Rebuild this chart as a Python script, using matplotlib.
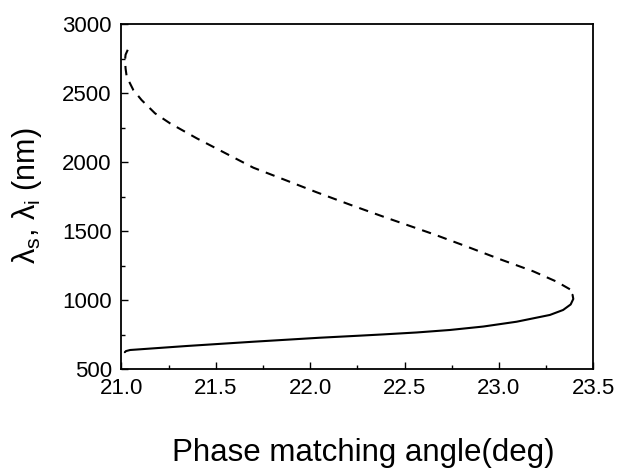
import matplotlib
matplotlib.use("Agg")
import matplotlib.pyplot as plt
from matplotlib.ticker import MultipleLocator

plt.rcParams['font.family'] = ['Liberation Sans', 'DejaVu Sans']
plt.rcParams['mathtext.default'] = 'regular'

# Signal wavelength (solid)
signal_angle = [21.018, 21.024, 21.046, 21.346, 21.699, 22.052, 22.264, 22.387,
                22.564, 22.74, 22.917, 23.094, 23.27, 23.34, 23.38, 23.394, 23.39]
signal_wl = [624, 632, 640, 669, 700, 729, 744, 753,
             767, 785, 810, 845, 894, 930, 970, 1010, 1040]

# Idler wavelength (dashed)
idler_angle = [23.376, 23.306, 23.182, 23.005, 22.829, 22.652, 22.40,
               22.211, 22.034, 21.858, 21.699, 21.399, 21.257, 21.178, 21.107,
               21.063, 21.028, 21.022, 21.019, 21.022, 21.037]
idler_wl = [1080, 1135, 1210, 1298, 1390, 1480, 1600,
            1693, 1783, 1877, 1961, 2174, 2283, 2355, 2451,
            2524, 2620, 2680, 2741, 2780, 2826]

fig = plt.figure(figsize=(6.17, 4.73), dpi=100)
ax = fig.add_axes([0.1968, 0.2192, 0.9616 - 0.1968, 0.9486 - 0.2192])

ax.plot(signal_angle, signal_wl, color='black', lw=1.5, solid_capstyle='round',
        solid_joinstyle='round')
ax.plot(idler_angle, idler_wl, color='black', lw=1.5, linestyle=(0, (4.5, 3.5)))

ax.set_xlim(21.0, 23.5)
ax.set_ylim(500, 3000)
ax.xaxis.set_major_locator(MultipleLocator(0.5))
ax.xaxis.set_minor_locator(MultipleLocator(0.25))
ax.yaxis.set_major_locator(MultipleLocator(500))
ax.yaxis.set_minor_locator(MultipleLocator(250))
ax.set_xticks([21.0, 21.5, 22.0, 22.5, 23.0, 23.5])
ax.set_xticklabels(['21.0', '21.5', '22.0', '22.5', '23.0', '23.5'])

ax.tick_params(which='both', direction='in', width=1.0, labelsize=16)
ax.tick_params(which='major', length=5.3)
ax.tick_params(which='minor', length=3)
ax.tick_params(axis='y', pad=7)
ax.tick_params(axis='x', pad=6)
for s in ax.spines.values():
    s.set_linewidth(1.3)

fig.text(363 / 617, 1 - 461 / 473, 'Phase matching angle(deg)', ha='center', va='baseline',
         fontsize=22.5)
fig.text(27 / 617, 1 - 196 / 473, r'λ$_{s}$, λ$_{i}$ (nm)', rotation=90,
         ha='center', va='center', fontsize=22)

fig.savefig('out.png', dpi=100)
